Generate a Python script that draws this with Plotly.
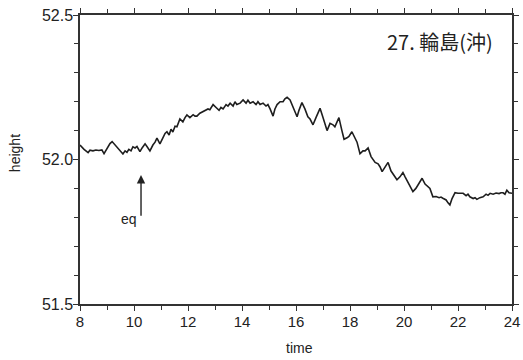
import plotly.graph_objects as go

time = [8.00, 8.15, 8.30, 8.37, 8.48, 8.59, 8.70, 8.81, 8.89, 9.00, 9.11, 9.19, 9.30, 9.37, 9.48,
        9.59, 9.67, 9.74, 9.81, 9.89, 9.96, 10.04, 10.11, 10.22, 10.30, 10.41, 10.48, 10.59, 10.70,
        10.78, 10.85, 10.96, 11.07, 11.15, 11.22, 11.30, 11.37, 11.44, 11.52, 11.59, 11.70, 11.81,
        11.89, 11.96, 12.07, 12.19, 12.26, 12.33, 12.44, 12.56, 12.67, 12.74, 12.81, 12.93, 13.04,
        13.15, 13.22, 13.30, 13.41, 13.48, 13.56, 13.67, 13.74, 13.81, 13.93, 14.04, 14.15, 14.22,
        14.30, 14.41, 14.52, 14.59, 14.67, 14.78, 14.89, 14.96, 15.04, 15.15, 15.22, 15.30, 15.41,
        15.52, 15.59, 15.67, 15.78, 15.89, 15.96, 16.04, 16.11, 16.22, 16.33, 16.44, 16.52, 16.63,
        16.74, 16.81, 16.89, 17.00, 17.07, 17.15, 17.26, 17.37, 17.44, 17.52, 17.59, 17.70, 17.78,
        17.89, 17.96, 18.07, 18.19, 18.26, 18.37, 18.48, 18.56, 18.67, 18.78, 18.85, 18.93, 19.04,
        19.11, 19.19, 19.30, 19.41, 19.52, 19.63, 19.74, 19.85, 19.96, 20.04, 20.15, 20.22, 20.33,
        20.44, 20.56, 20.67, 20.78, 20.89, 20.96, 21.07, 21.19, 21.30, 21.37, 21.44, 21.56, 21.63,
        21.70, 21.78, 21.89, 22.00, 22.11, 22.19, 22.30, 22.37, 22.44, 22.56, 22.63, 22.70, 22.81,
        22.93, 23.04, 23.11, 23.19, 23.30, 23.41, 23.52, 23.59, 23.67, 23.74, 23.81, 23.89, 24.00]

height = [52.050, 52.035, 52.024, 52.032, 52.030, 52.033, 52.031, 52.033, 52.020, 52.040, 52.055,
          52.062, 52.050, 52.044, 52.030, 52.019, 52.030, 52.025, 52.035, 52.030, 52.044, 52.040,
          52.045, 52.027, 52.040, 52.054, 52.045, 52.030, 52.050, 52.060, 52.074, 52.054, 52.075,
          52.090, 52.096, 52.085, 52.105, 52.095, 52.115, 52.113, 52.140, 52.130, 52.145, 52.154,
          52.145, 52.155, 52.150, 52.150, 52.160, 52.165, 52.170, 52.175, 52.172, 52.190, 52.180,
          52.170, 52.180, 52.175, 52.190, 52.185, 52.195, 52.185, 52.200, 52.190, 52.195, 52.206,
          52.195, 52.205, 52.195, 52.200, 52.190, 52.200, 52.190, 52.195, 52.185, 52.190, 52.175,
          52.150, 52.175, 52.190, 52.200, 52.200, 52.210, 52.215, 52.206, 52.180, 52.165, 52.148,
          52.170, 52.197, 52.175, 52.148, 52.140, 52.120, 52.145, 52.160, 52.177, 52.145, 52.120,
          52.100, 52.125, 52.120, 52.113, 52.130, 52.145, 52.100, 52.070, 52.075, 52.080, 52.096,
          52.075, 52.060, 52.020, 52.030, 52.030, 52.040, 52.010, 52.000, 51.990, 51.985, 51.975,
          51.958, 51.975, 51.990, 51.960, 51.945, 51.930, 51.940, 51.955, 51.940, 51.920, 51.910,
          51.889, 51.900, 51.920, 51.935, 51.915, 51.905, 51.900, 51.871, 51.872, 51.868, 51.870,
          51.866, 51.860, 51.850, 51.843, 51.865, 51.885, 51.883, 51.884, 51.883, 51.875, 51.880,
          51.871, 51.865, 51.868, 51.862, 51.868, 51.871, 51.880, 51.876, 51.883, 51.880, 51.884,
          51.882, 51.885, 51.885, 51.880, 51.894, 51.885, 51.883]

x_ticks = [8, 10, 12, 14, 16, 18, 20, 22, 24]
y_ticks = [51.5, 52.0, 52.5]
station_label = "27. 輪島(沖)"
eq_time = 10.26

FONT = "Liberation Sans, Arial, sans-serif"
INK = "#222222"

fig = go.Figure()
fig.add_trace(go.Scatter(x=time, y=height, mode="lines",
                         line=dict(color="#1e1e1e", width=1.6), showlegend=False))

axis_common = dict(showline=True, linecolor="#333333", linewidth=1.5, mirror="allticks",
                   ticks="outside", ticklen=5, tickcolor="#333333", tickwidth=1,
                   showgrid=False, zeroline=False, automargin=False,
                   ticklabeloverflow="allow")

fig.update_xaxes(range=[8, 24], tickvals=x_ticks,
                 tickfont=dict(family=FONT, size=15, color=INK), ticklabelstandoff=-2,
                 minor=dict(dtick=1, ticks="outside", ticklen=4, tickcolor="#333333", showgrid=False),
                 **axis_common)
fig.update_yaxes(range=[51.5, 52.5], tickvals=y_ticks, tickformat=".1f",
                 tickfont=dict(family=FONT, size=16, color=INK), ticklabelstandoff=-3,
                 minor=dict(dtick=0.1, ticks="outside", ticklen=4, tickcolor="#333333", showgrid=False),
                 **axis_common)

# axis titles
fig.add_annotation(x=0.509, y=-0.152, xref="paper", yref="paper", text="time",
                   showarrow=False, xanchor="center", yanchor="middle",
                   font=dict(family=FONT, size=14, color=INK))
fig.add_annotation(x=-0.1505, y=0.522, xref="paper", yref="paper", text="height",
                   showarrow=False, xanchor="center", yanchor="middle", textangle=-90,
                   font=dict(family=FONT, size=14, color=INK))

fig.add_annotation(x=eq_time, y=51.946, ax=eq_time, ay=51.80, xref="x", yref="y",
                   axref="x", ayref="y", text="", showarrow=True, arrowhead=2,
                   arrowsize=1.2, arrowwidth=1.4, arrowcolor=INK)
fig.add_annotation(x=eq_time - 0.08, y=51.795, xref="x", yref="y", text="eq",
                   showarrow=False, xanchor="right", yanchor="middle",
                   font=dict(family=FONT, size=14, color=INK))
fig.add_annotation(x=0.961, y=0.907, xref="paper", yref="paper", text=station_label,
                   showarrow=False, xanchor="right", yanchor="middle",
                   font=dict(family="Noto Sans CJK JP", size=20, color=INK))

fig.update_layout(width=523, height=360, margin=dict(l=80, r=11, t=15, b=56),
                  paper_bgcolor="white", plot_bgcolor="white")

fig.write_html("out.html", config={"displayModeBar": False},
               post_script="document.body.style.margin='0';document.body.style.overflow='hidden';")
